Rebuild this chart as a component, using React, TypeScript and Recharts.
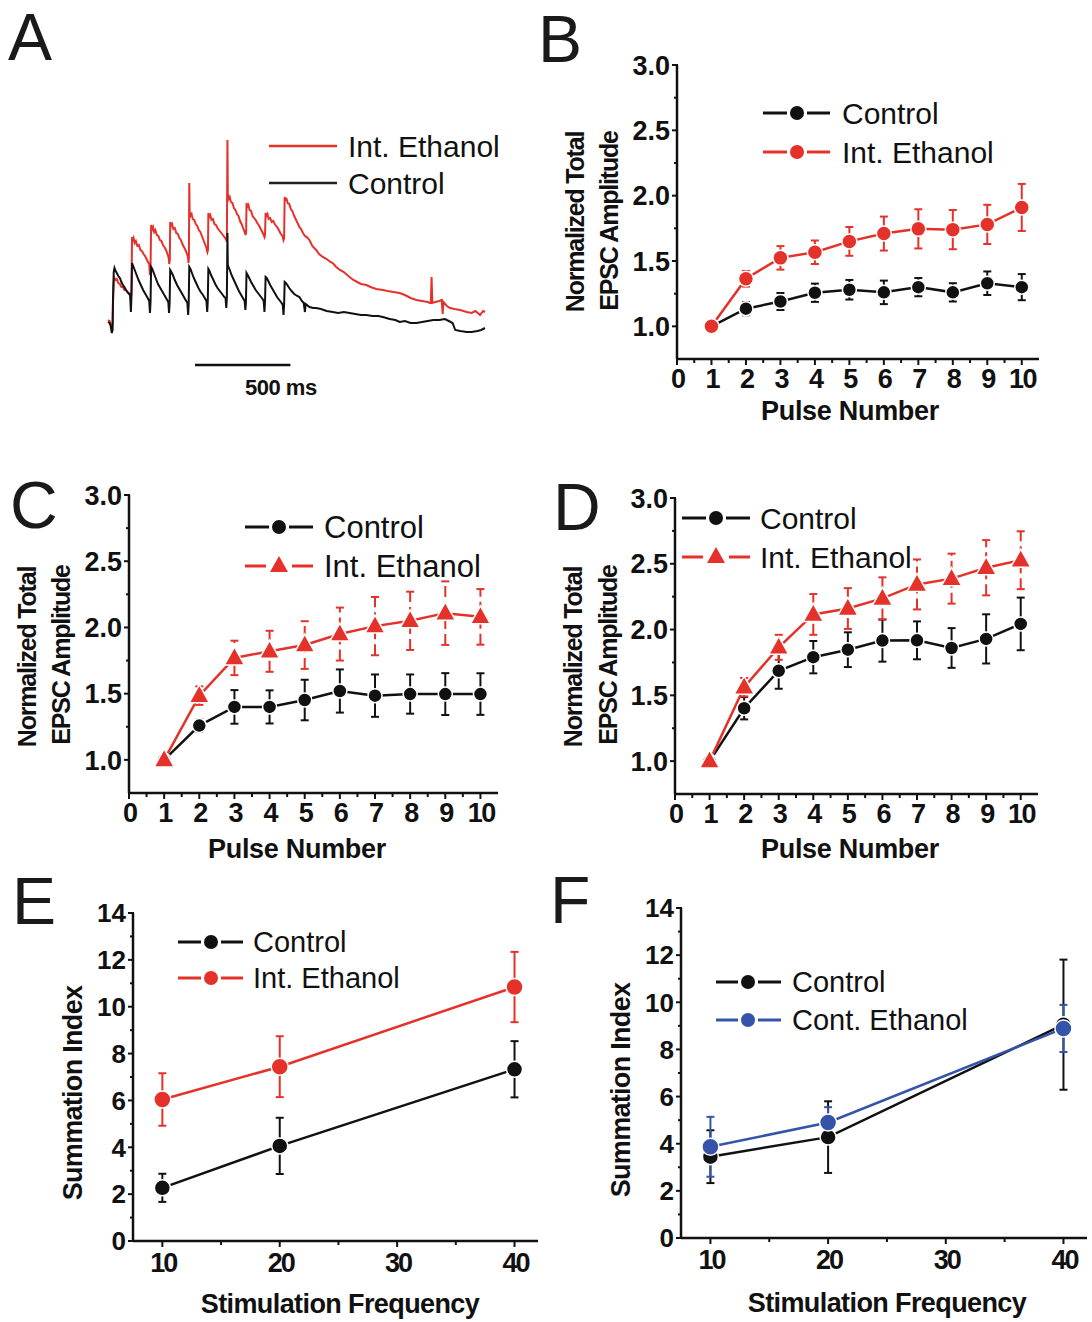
import React from 'react';
import { LineChart, Line, XAxis, YAxis, ErrorBar, ReferenceLine } from 'recharts';

const FONT = '"Liberation Sans", Arial, Helvetica, sans-serif';
const RED = '#E4322B';
const BLACK = '#111111';
const BLUE = '#3553A8';

// ---- A: example traces, [time (ms), amplitude] ----
const traceControl: [number, number][] = [
  [-26, -2], [-18, -3], [-12, -6], [-6, -13], [-2, -10], [0, 20], [4, 48], [8, 52], [14, 49], [20, 47], [28, 44], [36, 42], [44, 38], [52, 35], [60, 33], [68, 30], [76, 28], [84, 26], [90, 25], [94, 8], [97, 24],
  [100, 57], [106, 54], [114, 50], [124, 45], [134, 40], [146, 35], [158, 30], [170, 26], [182, 22], [190, 19], [194, 7], [197, 18],
  [200, 53], [206, 51], [214, 47], [224, 42], [236, 36], [248, 32], [260, 28], [272, 24], [284, 20], [290, 18], [294, 7], [297, 17],
  [300, 50], [306, 48], [314, 45], [324, 40], [336, 35], [348, 31], [360, 27], [372, 23], [384, 19], [390, 17], [394, 5], [397, 16],
  [400, 53], [406, 51], [414, 47], [424, 42], [436, 37], [448, 32], [460, 28], [472, 25], [484, 21], [490, 19], [494, 8], [497, 19],
  [500, 51], [506, 49], [514, 45], [524, 41], [536, 36], [548, 32], [560, 29], [572, 26], [584, 23], [590, 22], [594, 12], [597, 22],
  [600, 87], [602, 55], [606, 53], [614, 49], [624, 44], [636, 39], [648, 34], [660, 29], [672, 25], [684, 21], [690, 19], [694, 10], [697, 18],
  [700, 47], [706, 45], [714, 42], [724, 38], [736, 34], [748, 30], [760, 27], [772, 24], [784, 21], [790, 19], [794, 8], [797, 18],
  [800, 43], [806, 42], [814, 39], [824, 35], [836, 31], [848, 27], [860, 23], [872, 20], [884, 17], [890, 15], [894, 5], [897, 15],
  [900, 38], [906, 37], [914, 35], [924, 32], [936, 29], [950, 26], [966, 24], [977, 23], [990, 19], [1000, 17], [1006, 8], [1010, 16],
  [1030, 13], [1050, 12], [1065, 12], [1090, 11], [1120, 9], [1152, 8], [1180, 7], [1210, 8], [1240, 7], [1270, 6], [1300, 5], [1328, 5],
  [1360, 4], [1390, 4], [1415, 3], [1450, 1], [1480, 0], [1503, -2], [1530, -1], [1560, -3], [1591, -3], [1620, -2], [1650, -1], [1679, 0],
  [1710, 0], [1740, 1], [1760, -1], [1780, -3], [1794, -10], [1820, -11], [1854, -12], [1880, -12], [1910, -11], [1930, -10], [1950, -8],
];

const traceEthanol: [number, number][] = [
  [-26, 0], [-18, -1], [-12, -4], [-6, -8], [-2, -5], [0, 15], [4, 38], [8, 42], [14, 40], [20, 41], [28, 37], [36, 36], [44, 33], [52, 33], [60, 30], [68, 30], [76, 28], [84, 27], [90, 26], [94, 20], [97, 30],
  [100, 83], [104, 80], [108, 82], [114, 77], [120, 79], [128, 74], [136, 75], [144, 70], [152, 69], [160, 66], [168, 64], [176, 61], [184, 58], [190, 56], [194, 45], [197, 53],
  [200, 95], [204, 90], [210, 93], [216, 88], [222, 90], [230, 85], [238, 84], [246, 80], [254, 79], [262, 75], [270, 73], [278, 70], [286, 66], [292, 62], [295, 56], [298, 60],
  [300, 98], [304, 94], [310, 96], [316, 91], [324, 92], [332, 87], [340, 86], [348, 82], [356, 80], [364, 76], [372, 73], [380, 70], [388, 66], [393, 63], [396, 57], [398, 62],
  [400, 137], [402, 108], [406, 104], [412, 106], [418, 101], [426, 100], [434, 96], [442, 94], [450, 90], [458, 88], [466, 84], [474, 80], [482, 76], [490, 72], [495, 68], [498, 70],
  [500, 107], [504, 103], [510, 105], [516, 100], [524, 101], [532, 96], [540, 95], [548, 92], [556, 90], [564, 88], [572, 86], [580, 84], [588, 82], [594, 80], [597, 78],
  [600, 180], [602, 126], [606, 121], [612, 123], [618, 118], [626, 117], [634, 112], [642, 110], [650, 106], [658, 104], [666, 99], [674, 96], [682, 92], [690, 88], [695, 85], [698, 88],
  [700, 117], [704, 113], [710, 115], [716, 110], [724, 109], [732, 104], [740, 102], [748, 100], [756, 97], [764, 95], [772, 92], [780, 89], [788, 86], [794, 83], [797, 85],
  [800, 107], [804, 104], [810, 106], [816, 101], [824, 102], [832, 98], [840, 99], [848, 96], [856, 94], [864, 92], [872, 89], [880, 86], [888, 84], [894, 80], [897, 82],
  [900, 123], [904, 120], [910, 121], [916, 117], [924, 116], [932, 111], [940, 109], [950, 104], [960, 100], [970, 96], [977, 93], [986, 91], [996, 87], [1006, 84],
  [1016, 83], [1030, 80], [1045, 74], [1065, 70], [1080, 66], [1100, 63], [1120, 61], [1140, 58], [1152, 57], [1170, 53], [1190, 50], [1210, 48], [1240, 43], [1260, 40],
  [1280, 38], [1300, 36], [1328, 35], [1350, 33], [1380, 31], [1415, 30], [1440, 29], [1470, 28], [1503, 27], [1530, 25], [1560, 22], [1591, 20], [1620, 19], [1650, 18],
  [1661, 17], [1666, 17], [1670, 43], [1674, 17], [1690, 18], [1710, 19], [1723, 20], [1728, 6], [1732, 18], [1750, 14], [1767, 12], [1790, 11], [1820, 10], [1854, 8],
  [1880, 7], [1900, 9], [1924, 5], [1940, 9], [1950, 8],
];
const scaleBar: [number, number] = [430, 930]; // 500 ms

// ---- B, C, D: normalized total EPSC amplitude vs pulse number ----
const pulseNumbers = [1, 2, 3, 4, 5, 6, 7, 8, 9, 10];

const bControl = [1.0, 1.135, 1.19, 1.257, 1.28, 1.26, 1.3, 1.26, 1.33, 1.3];
const bControlErr = [0, 0.05, 0.065, 0.07, 0.075, 0.09, 0.07, 0.07, 0.09, 0.1];
const bEthanol = [1.0, 1.364, 1.524, 1.567, 1.65, 1.71, 1.746, 1.74, 1.78, 1.91];
const bEthanolErr = [0, 0.06, 0.09, 0.09, 0.11, 0.13, 0.15, 0.15, 0.15, 0.18];

const cControl = [1.0, 1.259, 1.4, 1.4, 1.452, 1.52, 1.485, 1.497, 1.497, 1.497];
const cControlErr = [0, 0.045, 0.127, 0.125, 0.153, 0.163, 0.16, 0.148, 0.158, 0.157];
const cEthanol = [1.0, 1.485, 1.77, 1.82, 1.867, 1.95, 2.01, 2.05, 2.108, 2.08];
const cEthanolErr = [0, 0.07, 0.13, 0.155, 0.18, 0.2, 0.22, 0.22, 0.24, 0.21];

const dControl = [1.0, 1.402, 1.687, 1.79, 1.847, 1.916, 1.918, 1.86, 1.929, 2.043];
const dControlErr = [0, 0.085, 0.137, 0.123, 0.132, 0.16, 0.144, 0.151, 0.187, 0.2];
const dEthanol = [1.0, 1.562, 1.865, 2.115, 2.16, 2.237, 2.343, 2.387, 2.47, 2.527];
const dEthanolErr = [0, 0.07, 0.095, 0.155, 0.155, 0.16, 0.19, 0.19, 0.21, 0.22];

const pulseYTicks = [1, 1.25, 1.5, 1.75, 2, 2.25, 2.5, 2.75, 3];
const pulseYLabels = [1, 1.5, 2, 2.5, 3];
const pulseXTicks = [0, 0.5, 1, 1.5, 2, 2.5, 3, 3.5, 4, 4.5, 5, 5.5, 6, 6.5, 7, 7.5, 8, 8.5, 9, 9.5, 10];
const pulseXLabels = [0, 1, 2, 3, 4, 5, 6, 7, 8, 9, 10];

// ---- E, F: summation index vs stimulation frequency ----
const frequencies = [10, 20, 40];
const eControl = [2.27, 4.06, 7.33];
const eControlErr = [0.6, 1.2, 1.2];
const eEthanol = [6.04, 7.44, 10.84];
const eEthanolErr = [1.12, 1.3, 1.5];

const fControl = [3.45, 4.28, 9.05];
const fControlErr = [1.12, 1.52, 2.76];
const fEthanol = [3.87, 4.9, 8.89];
const fEthanolErr = [1.27, 0.65, 1.0];

const sumYTicks = [0, 1, 2, 3, 4, 5, 6, 7, 8, 9, 10, 11, 12, 13, 14];
const sumYLabels = [0, 2, 4, 6, 8, 10, 12, 14];
const sumXTicks = [10, 15, 20, 25, 30, 35, 40];
const sumXLabels = [10, 20, 30, 40];

const rowsOf = (xs: number[], c: number[], ce: number[], e: number[], ee: number[]) =>
  xs.map((x, i) => ({ x, ctrl: c[i], ctrlErr: ce[i], eth: e[i], ethErr: ee[i] }));

const hasLabel = (labels: number[], v: number) => labels.some((m) => Math.abs(m - v) < 1e-6);

// axis boxes are 1px wide/high, so tick x/y come out 1px off the line
function YTick(props: any) {
  const { x, y, payload, labels, fontSize, digits } = props;
  const v = payload.value;
  const ax = x + 1;
  const big = hasLabel(labels, v);
  return (
    <g>
      <line x1={ax} x2={ax - (big ? 6 : 4)} y1={y} y2={y} stroke={BLACK} strokeWidth={2} />
      {big && (
        <text x={ax - 8} y={y + 0.358 * fontSize} textAnchor="end" fontFamily={FONT} fontWeight="bold" fontSize={fontSize} fill={BLACK}>
          {v.toFixed(digits)}
        </text>
      )}
    </g>
  );
}

function XTick(props: any) {
  const { x, y, payload, labels, fontSize, spacing, dy } = props;
  const v = payload.value;
  const big = hasLabel(labels, v);
  return (
    <g>
      <line x1={x} x2={x} y1={y} y2={y + (big ? 6 : 4)} stroke={BLACK} strokeWidth={2} />
      {big && (
        <text x={x - spacing / 2} y={y + dy} textAnchor="middle" fontFamily={FONT} fontWeight="bold" fontSize={fontSize} letterSpacing={spacing} fill={BLACK}>
          {v}
        </text>
      )}
    </g>
  );
}

const circleDot = (fill: string, r: number) => (p: any) => (
  <circle key={`c-${p.index}`} cx={p.cx} cy={p.cy} r={r} fill={fill} stroke="#fff" strokeWidth={1.5} />
);
const triangleDot = (fill: string) => (p: any) => (
  <path
    key={`t-${p.index}`}
    d={`M${p.cx},${p.cy - 11} L${p.cx + 10},${p.cy + 7} L${p.cx - 10},${p.cy + 7} Z`}
    fill={fill}
    stroke="#fff"
    strokeWidth={1.5}
  />
);

type Box = { left: number; top: number; w: number; h: number };
const M = { top: 20, right: 20, bottom: 49, left: 69 };
const OFF_L = 70;
const OFF_T = 20;
const axisLine = { stroke: BLACK, strokeWidth: 2.5 };

function PulsePanel({ box, rows, triangles, dashedErr }: { box: Box; rows: any[]; triangles: boolean; dashedErr: boolean }) {
  return (
    <div style={{ position: 'absolute', left: box.left - OFF_L, top: box.top - OFF_T }}>
      <LineChart width={box.w + OFF_L + M.right} height={box.h + OFF_T + 50} data={rows} margin={M}>
        <XAxis
          type="number"
          dataKey="x"
          domain={[0, 10.5]}
          ticks={pulseXTicks}
          interval={0}
          height={1}
          tickSize={0}
          tickMargin={0}
          axisLine={axisLine}
          tickLine={false}
          tick={<XTick labels={pulseXLabels} fontSize={27} spacing={-1.5} dy={29} />}
        />
        <YAxis
          type="number"
          domain={[0.75, 3]}
          ticks={pulseYTicks}
          interval={0}
          width={1}
          tickSize={0}
          tickMargin={0}
          axisLine={axisLine}
          tickLine={false}
          tick={<YTick labels={pulseYLabels} fontSize={27} digits={1} />}
        />
        <Line type="linear" dataKey="ctrl" stroke={BLACK} strokeWidth={2.5} dot={circleDot(BLACK, 7)} activeDot={false} isAnimationActive={false}>
          <ErrorBar dataKey="ctrlErr" direction="y" width={4} stroke={BLACK} strokeWidth={2} isAnimationActive={false} />
        </Line>
        <Line
          type="linear"
          dataKey="eth"
          stroke={RED}
          strokeWidth={2.5}
          dot={triangles ? triangleDot(RED) : circleDot(RED, 7.5)}
          activeDot={false}
          isAnimationActive={false}
        >
          <ErrorBar
            dataKey="ethErr"
            direction="y"
            width={4}
            stroke={RED}
            strokeWidth={2}
            strokeDasharray={dashedErr ? '11 5' : undefined}
            isAnimationActive={false}
          />
        </Line>
      </LineChart>
    </div>
  );
}

function SummationPanel({ box, rows, ethColor }: { box: Box; rows: any[]; ethColor: string }) {
  return (
    <div style={{ position: 'absolute', left: box.left - OFF_L, top: box.top - OFF_T }}>
      <LineChart width={box.w + OFF_L + M.right} height={box.h + OFF_T + 50} data={rows} margin={M}>
        <XAxis
          type="number"
          dataKey="x"
          domain={[7.5, 42]}
          ticks={sumXTicks}
          interval={0}
          height={1}
          tickSize={0}
          tickMargin={0}
          axisLine={axisLine}
          tickLine={false}
          tick={<XTick labels={sumXLabels} fontSize={27} spacing={-2} dy={31} />}
        />
        <YAxis
          type="number"
          domain={[0, 14]}
          ticks={sumYTicks}
          interval={0}
          width={1}
          tickSize={0}
          tickMargin={0}
          axisLine={axisLine}
          tickLine={false}
          tick={<YTick labels={sumYLabels} fontSize={26} digits={0} />}
        />
        <Line type="linear" dataKey="ctrl" stroke={BLACK} strokeWidth={2.5} dot={circleDot(BLACK, 8)} activeDot={false} isAnimationActive={false}>
          <ErrorBar dataKey="ctrlErr" direction="y" width={4} stroke={BLACK} strokeWidth={2} isAnimationActive={false} />
        </Line>
        <Line type="linear" dataKey="eth" stroke={ethColor} strokeWidth={2.5} dot={circleDot(ethColor, 8.5)} activeDot={false} isAnimationActive={false}>
          <ErrorBar dataKey="ethErr" direction="y" width={4} stroke={ethColor} strokeWidth={2} isAnimationActive={false} />
        </Line>
      </LineChart>
    </div>
  );
}

function TracePanel() {
  const ctrl = traceControl.map(([t, a]) => ({ t, a }));
  const eth = traceEthanol.map(([t, a]) => ({ t, a }));
  return (
    <div style={{ position: 'absolute', left: 98, top: 120 }}>
      <LineChart width={397} height={280} margin={{ top: 10, right: 10, bottom: 10, left: 10 }}>
        <XAxis type="number" dataKey="t" domain={[-26, 1950]} hide />
        <YAxis type="number" domain={[-70, 190]} hide />
        <Line data={eth} dataKey="a" stroke={RED} strokeWidth={2} dot={false} activeDot={false} isAnimationActive={false} />
        <Line data={ctrl} dataKey="a" stroke={BLACK} strokeWidth={2} dot={false} activeDot={false} isAnimationActive={false} />
        <ReferenceLine
          segment={[
            { x: scaleBar[0], y: -45 },
            { x: scaleBar[1], y: -45 },
          ]}
          stroke={BLACK}
          strokeWidth={2.5}
        />
      </LineChart>
    </div>
  );
}

function LegendRow({ x0, x1, mx, y, color, shape, label, fs, tx }: any) {
  const r = shape === 'triangle' ? 10 : 7;
  return (
    <g>
      <line x1={x0} x2={mx - r - 3} y1={y} y2={y} stroke={color} strokeWidth={3} />
      <line x1={mx + r + 3} x2={x1} y1={y} y2={y} stroke={color} strokeWidth={3} />
      {shape === 'triangle' ? (
        <path d={`M${mx},${y - 10} L${mx + 9},${y + 6} L${mx - 9},${y + 6} Z`} fill={color} />
      ) : (
        <circle cx={mx} cy={y} r={r} fill={color} />
      )}
      <text x={tx} y={y + 0.358 * fs} fontSize={fs} fontFamily={FONT} fill={BLACK}>
        {label}
      </text>
    </g>
  );
}

function VLabel({ cx, cy, fs, text, spacing = 0 }: any) {
  return (
    <text
      transform={`translate(${cx + 0.358 * fs}, ${cy}) rotate(-90)`}
      textAnchor="middle"
      fontFamily={FONT}
      fontWeight="bold"
      fontSize={fs}
      letterSpacing={spacing}
      fill={BLACK}
    >
      {text}
    </text>
  );
}

function HLabel({ cx, cy, fs, text, spacing = 0 }: any) {
  return (
    <text x={cx} y={cy + 0.358 * fs} textAnchor="middle" fontFamily={FONT} fontWeight="bold" fontSize={fs} letterSpacing={spacing} fill={BLACK}>
      {text}
    </text>
  );
}

function Overlay() {
  const letter = (t: string, x: number, y: number) => (
    <text x={x} y={y} fontFamily={FONT} fontSize={66} fill="#1a1a1a">
      {t}
    </text>
  );
  return (
    <svg width={1092} height={1322} style={{ position: 'absolute', left: 0, top: 0, pointerEvents: 'none' }}>
      {letter('A', 8, 60)}
      {letter('B', 538, 62)}
      {letter('C', 10, 528)}
      {letter('D', 553, 530)}
      {letter('E', 12, 924)}
      {letter('F', 550, 923)}

      {/* A legend + scale bar label */}
      <line x1={269} x2={337} y1={146} y2={146} stroke={RED} strokeWidth={2.5} />
      <text x={348} y={157} fontSize={30} fontFamily={FONT} fill={BLACK}>Int. Ethanol</text>
      <line x1={269} x2={337} y1={183} y2={183} stroke="#222" strokeWidth={2.5} />
      <text x={348} y={194} fontSize={30} fontFamily={FONT} fill={BLACK}>Control</text>
      <text x={245} y={395} fontSize={22} fontWeight="bold" letterSpacing={-0.5} fontFamily={FONT} fill={BLACK}>500 ms</text>

      {/* B */}
      <LegendRow x0={763} x1={830} mx={797} y={113} color={BLACK} shape="circle" label="Control" fs={30} tx={842} />
      <LegendRow x0={763} x1={830} mx={797} y={152} color={RED} shape="circle" label="Int. Ethanol" fs={30} tx={842} />
      <VLabel cx={575} cy={222} fs={25} spacing={-1.2} text="Normalized Total" />
      <VLabel cx={609} cy={221} fs={25} spacing={-1.2} text="EPSC Amplitude" />
      <HLabel cx={850} cy={410} fs={27} spacing={-0.3} text="Pulse Number" />

      {/* C */}
      <LegendRow x0={245} x1={313} mx={279} y={527} color={BLACK} shape="circle" label="Control" fs={31} tx={324} />
      <LegendRow x0={245} x1={313} mx={279} y={566} color={RED} shape="triangle" label="Int. Ethanol" fs={31} tx={324} />
      <VLabel cx={27} cy={657} fs={25} spacing={-1.2} text="Normalized Total" />
      <VLabel cx={61} cy={655} fs={25} spacing={-1.2} text="EPSC Amplitude" />
      <HLabel cx={297} cy={848} fs={27} spacing={-0.3} text="Pulse Number" />

      {/* D */}
      <LegendRow x0={682} x1={750} mx={716} y={518} color={BLACK} shape="circle" label="Control" fs={30} tx={760} />
      <LegendRow x0={682} x1={750} mx={716} y={557} color={RED} shape="triangle" label="Int. Ethanol" fs={30} tx={760} />
      <VLabel cx={573} cy={657} fs={25} spacing={-1.2} text="Normalized Total" />
      <VLabel cx={608} cy={655} fs={25} spacing={-1.2} text="EPSC Amplitude" />
      <HLabel cx={850} cy={848} fs={27} spacing={-0.3} text="Pulse Number" />

      {/* E */}
      <LegendRow x0={178} x1={243} mx={211} y={942} color={BLACK} shape="circle" label="Control" fs={29} tx={253} />
      <LegendRow x0={178} x1={243} mx={211} y={978} color={RED} shape="circle" label="Int. Ethanol" fs={29} tx={253} />
      <VLabel cx={72} cy={1093} fs={27} spacing={-0.7} text="Summation Index" />
      <HLabel cx={340} cy={1303} fs={27} spacing={-0.6} text="Stimulation Frequency" />

      {/* F */}
      <LegendRow x0={716} x1={781} mx={748} y={982} color={BLACK} shape="circle" label="Control" fs={29} tx={792} />
      <LegendRow x0={716} x1={781} mx={748} y={1020} color={BLUE} shape="circle" label="Cont. Ethanol" fs={29} tx={792} />
      <VLabel cx={620} cy={1090} fs={27} spacing={-0.7} text="Summation Index" />
      <HLabel cx={887} cy={1302} fs={27} spacing={-0.6} text="Stimulation Frequency" />
    </svg>
  );
}

export default function App() {
  return (
    <div style={{ position: 'absolute', left: 0, top: 0, width: 1092, height: 1322, overflow: 'hidden', background: '#fff', fontFamily: FONT }}>
      <TracePanel />
      <PulsePanel box={{ left: 677, top: 65, w: 362, h: 294 }} rows={rowsOf(pulseNumbers, bControl, bControlErr, bEthanol, bEthanolErr)} triangles={false} dashedErr={false} />
      <PulsePanel box={{ left: 129, top: 495, w: 369, h: 298 }} rows={rowsOf(pulseNumbers, cControl, cControlErr, cEthanol, cEthanolErr)} triangles dashedErr />
      <PulsePanel box={{ left: 675, top: 498, w: 363, h: 296 }} rows={rowsOf(pulseNumbers, dControl, dControlErr, dEthanol, dEthanolErr)} triangles dashedErr />
      <SummationPanel box={{ left: 133, top: 913, w: 405, h: 328 }} rows={rowsOf(frequencies, eControl, eControlErr, eEthanol, eEthanolErr)} ethColor={RED} />
      <SummationPanel box={{ left: 681, top: 908, w: 406, h: 330 }} rows={rowsOf(frequencies, fControl, fControlErr, fEthanol, fEthanolErr)} ethColor={BLUE} />
      <Overlay />
    </div>
  );
}
